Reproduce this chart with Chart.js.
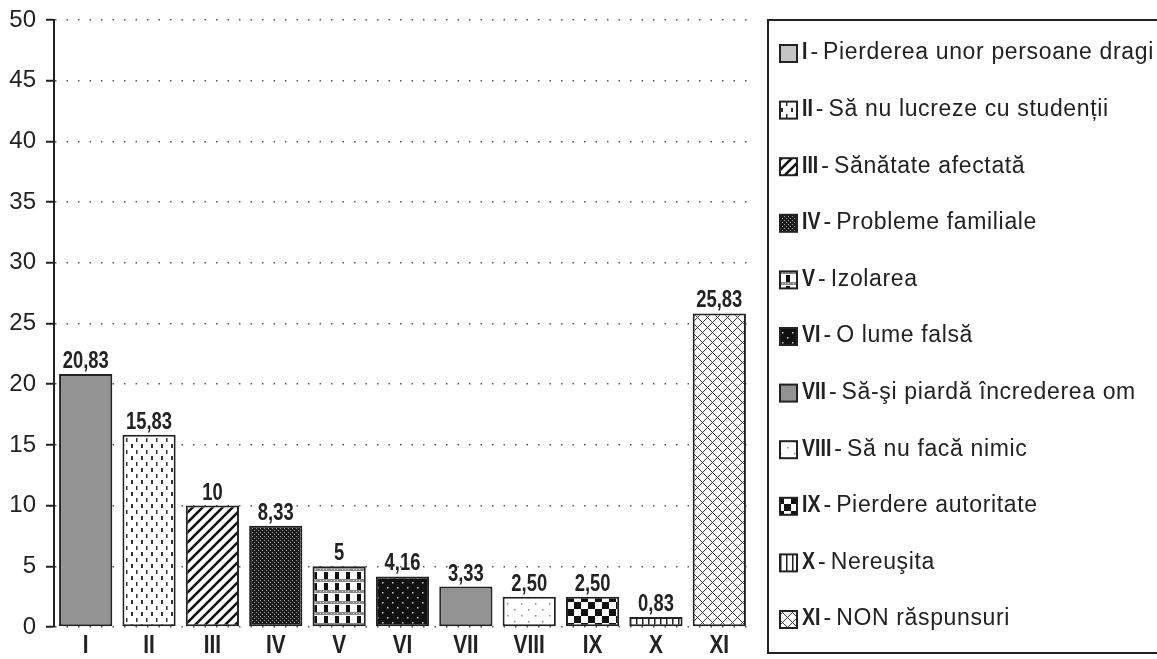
<!DOCTYPE html>
<html>
<head>
<meta charset="utf-8">
<script src="https://cdn.jsdelivr.net/npm/chart.js@4.4.1/dist/chart.umd.min.js"></script>
<style>
html, body { margin: 0; padding: 0; background: #fff; }
#wrap { width: 1157px; height: 659px; }
</style>
</head>
<body>
<div id="wrap"><canvas id="chart" width="1157" height="659"></canvas></div>
<script>
const categories = ['I', 'II', 'III', 'IV', 'V', 'VI', 'VII', 'VIII', 'IX', 'X', 'XI'];
const legendNames = [
    'Pierderea unor persoane dragi',
    'Să nu lucreze cu studenții',
    'Sănătate afectată',
    'Probleme familiale',
    'Izolarea',
    'O lume falsă',
    'Să-şi piardă încrederea om',
    'Să nu facă nimic',
    'Pierdere autoritate',
    'Nereuşita',
    'NON răspunsuri'
];
const values = [20.83, 15.83, 10, 8.33, 5, 4.16, 3.33, 2.5, 2.5, 0.83, 25.83];
const valueLabels = ['20,83', '15,83', '10', '8,33', '5', '4,16', '3,33', '2,50', '2,50', '0,83', '25,83'];
const yMin = 0, yMax = 50, yStep = 5;

const SANS = "'Liberation Sans', Arial, sans-serif";

// small tiles for the hatch fills
function tile(w, h, draw) {
    const c = document.createElement('canvas');
    c.width = w; c.height = h;
    const g = c.getContext('2d');
    draw(g, w, h);
    return g.createPattern(c, 'repeat');
}

const fills = [
    '#939393',
    tile(10, 12, (g) => {
        g.fillStyle = '#fff'; g.fillRect(0, 0, 10, 12);
        g.fillStyle = '#333';
        g.fillRect(1, 0, 2, 4);
        g.fillRect(6, 6, 1.5, 4);
    }),
    tile(10, 10, (g) => {
        g.fillStyle = '#fff'; g.fillRect(0, 0, 10, 10);
        g.strokeStyle = '#111'; g.lineWidth = 2.6;
        g.beginPath();
        g.moveTo(-2, 12); g.lineTo(12, -2);
        g.moveTo(-2, 2); g.lineTo(2, -2);
        g.moveTo(8, 12); g.lineTo(12, 8);
        g.stroke();
    }),
    tile(4, 4, (g) => {
        g.fillStyle = '#1c1c1c'; g.fillRect(0, 0, 4, 4);
        g.fillStyle = '#9a9a9a';
        g.fillRect(0, 0, 1, 1);
        g.fillRect(2, 2, 1, 1);
    }),
    tile(11, 11, (g) => {
        g.fillStyle = '#fff'; g.fillRect(0, 0, 11, 11);
        g.fillStyle = '#111';
        g.fillRect(5, 0, 4, 7);
        g.fillStyle = '#8a8a8a';
        g.fillRect(0, 7, 11, 3);
        g.fillStyle = '#ddd';
        g.fillRect(1, 8, 1, 1); g.fillRect(4, 8, 1, 1); g.fillRect(7, 8, 1, 1);
    }),
    tile(10, 10, (g) => {
        g.fillStyle = '#111'; g.fillRect(0, 0, 10, 10);
        g.fillStyle = '#ccc';
        g.fillRect(2, 2, 1.5, 1.5);
        g.fillRect(7, 7, 1.5, 1.5);
    }),
    '#939393',
    tile(14, 12, (g) => {
        g.fillStyle = '#fff'; g.fillRect(0, 0, 14, 12);
        g.fillStyle = '#888';
        g.fillRect(3, 3, 1.5, 1.5);
        g.fillRect(10, 9, 1.5, 1.5);
    }),
    tile(14, 14, (g) => {
        g.fillStyle = '#fff'; g.fillRect(0, 0, 14, 14);
        g.fillStyle = '#111';
        g.fillRect(0, 0, 7, 7);
        g.fillRect(7, 7, 7, 7);
    }),
    tile(6, 6, (g) => {
        g.fillStyle = '#fff'; g.fillRect(0, 0, 6, 6);
        g.fillStyle = '#222';
        g.fillRect(0, 0, 1.5, 6);
    }),
    tile(10, 10, (g) => {
        g.fillStyle = '#fff'; g.fillRect(0, 0, 10, 10);
        g.strokeStyle = '#333'; g.lineWidth = 1;
        g.beginPath();
        g.moveTo(0, 0); g.lineTo(10, 10);
        g.moveTo(0, 5); g.lineTo(5, 0);
        g.moveTo(5, 10); g.lineTo(10, 5);
        g.stroke();
    })
];
const legendFills = fills.slice();
legendFills[0] = '#c4c4c4';

// narrow bold text, squeezed horizontally since no narrow font is installed
function narrowText(ctx, text, x, y, size) {
    ctx.save();
    ctx.translate(x, y);
    ctx.scale(0.8, 1);
    ctx.font = 'bold ' + size + 'px ' + SANS;
    ctx.fillText(text, 0, 0);
    ctx.restore();
}

const valueLabelPlugin = {
    id: 'valueLabels',
    afterDatasetsDraw(chart) {
        const ctx = chart.ctx;
        const meta = chart.getDatasetMeta(0);
        ctx.save();
        ctx.fillStyle = '#222';
        ctx.textAlign = 'center';
        ctx.textBaseline = 'alphabetic';
        meta.data.forEach((bar, i) => {
            narrowText(ctx, valueLabels[i], bar.x, bar.y - 6, 23);
        });
        const xs = chart.scales.x;
        categories.forEach((cat, i) => {
            narrowText(ctx, cat, xs.getPixelForValue(i), chart.chartArea.bottom + 26, 26);
        });
        ctx.restore();
    }
};

const legendPlugin = {
    id: 'boxLegend',
    afterDraw(chart) {
        const ctx = chart.ctx;
        const area = chart.chartArea;
        const left = area.right + 17;
        const top = area.top;
        const bottom = chart.height - 6;
        const rowH = 56.6;
        ctx.save();
        ctx.lineWidth = 2;
        ctx.strokeStyle = '#222';
        ctx.strokeRect(left, top, chart.width - left + 10, bottom - top);
        ctx.textBaseline = 'middle';
        categories.forEach((cat, i) => {
            const y = top + 33 + i * rowH;
            const mx = left + 12;
            ctx.fillStyle = legendFills[i];
            ctx.fillRect(mx, y - 8, 17, 17);
            ctx.lineWidth = 2;
            ctx.strokeStyle = '#222';
            ctx.strokeRect(mx, y - 8, 17, 17);
            ctx.fillStyle = '#222';
            ctx.font = 'bold 23px ' + SANS;
            ctx.save();
            ctx.translate(mx + 22, y);
            ctx.scale(0.85, 1);
            ctx.fillText(cat, 0, 0);
            ctx.restore();
            let x = mx + 22 + ctx.measureText(cat).width * 0.85 + 3;
            ctx.font = '23px ' + SANS;
            ctx.fillText('-', x, y);
            x += ctx.measureText('-').width + 5;
            ctx.letterSpacing = '0.65px';
            ctx.fillText(legendNames[i], x, y);
            ctx.letterSpacing = '0px';
        });
        ctx.restore();
    }
};

new Chart(document.getElementById('chart'), {
    type: 'bar',
    data: {
        labels: categories,
        datasets: [{
            data: values,
            backgroundColor: fills,
            borderColor: '#222',
            borderWidth: 2,
            borderSkipped: false,
            barPercentage: 0.84,
            categoryPercentage: 1
        }]
    },
    options: {
        responsive: false,
        animation: false,
        layout: { padding: { top: 20, right: 406, left: 0, bottom: 0 } },
        plugins: {
            legend: { display: false },
            tooltip: { enabled: false }
        },
        scales: {
            x: {
                grid: { display: false },
                border: { display: false },
                ticks: { display: false },
                afterFit: (scale) => { scale.height = 32; }
            },
            y: {
                min: yMin,
                max: yMax,
                ticks: {
                    stepSize: yStep,
                    color: '#222',
                    padding: 10,
                    font: { family: SANS, size: 24 }
                },
                grid: {
                    color: '#555',
                    lineWidth: 1.5,
                    tickLength: 8,
                    tickColor: '#222',
                    tickWidth: 2,
                    tickBorderDash: []
                },
                border: { display: true, color: '#222', width: 2, dash: [1.5, 10] },
                afterFit: (scale) => {
                    scale.width = 54;
                    scale.paddingTop = 0;
                    scale.paddingBottom = 0;
                }
            }
        }
    },
    plugins: [valueLabelPlugin, legendPlugin]
});
</script>
</body>
</html>
